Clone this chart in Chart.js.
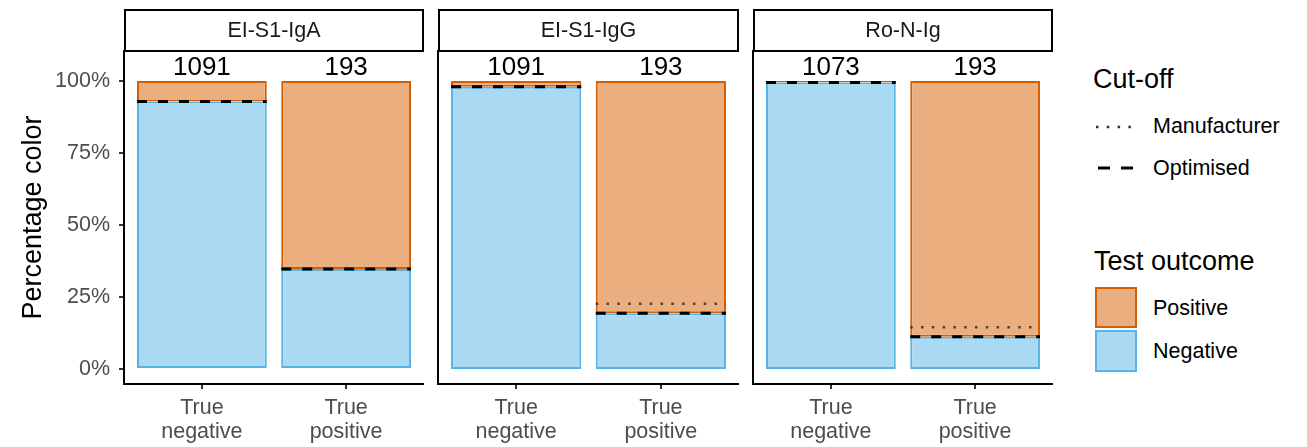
<!DOCTYPE html>
<html>
<head>
<meta charset="utf-8">
<script src="https://cdn.jsdelivr.net/npm/chart.js@4.4.1/dist/chart.umd.min.js"></script>
<style>
  html, body { margin: 0; padding: 0; background: #ffffff; }
  body { width: 1307px; height: 447px; position: relative; overflow: hidden;
         font-family: "Liberation Sans", Arial, Helvetica, sans-serif; }
  canvas { position: absolute; top: 0; }
  .lg { position: absolute; white-space: nowrap; color: #000; transform: translateY(-50%); }
  .lg-title { font-size: 27px; line-height: 27px; }
  .lg-text { font-size: 21.5px; line-height: 21.5px; }
  #keys { position: absolute; left: 0; top: 0; }
</style>
</head>
<body>
<canvas id="panel0" width="424" height="447" style="left:0px"></canvas>
<canvas id="panel1" width="311" height="447" style="left:428px"></canvas>
<canvas id="panel2" width="310" height="447" style="left:743px"></canvas>

<div class="lg lg-title" style="left:1093px; top:79px">Cut-off</div>
<div class="lg lg-text" style="left:1153px; top:127px">Manufacturer</div>
<div class="lg lg-text" style="left:1153px; top:169px">Optimised</div>
<div class="lg lg-title" style="left:1094px; top:261px">Test outcome</div>
<div class="lg lg-text" style="left:1153px; top:309px">Positive</div>
<div class="lg lg-text" style="left:1153px; top:352px">Negative</div>
<svg id="keys" width="1307" height="447">
  <line x1="1096" y1="127" x2="1136" y2="127" stroke="#333333" stroke-width="2.5" stroke-dasharray="2.5 8.3"/>
  <line x1="1098" y1="168" x2="1133" y2="168" stroke="#000000" stroke-width="3" stroke-dasharray="12 11"/>
  <rect x="1096" y="288" width="40" height="39" fill="#eaae7f" stroke="#D55E00" stroke-width="2"/>
  <rect x="1096" y="331" width="40" height="40" fill="#aad9f4" stroke="#56B4E9" stroke-width="2"/>
</svg>

<script>
// Assays shown as facets, left to right
const tests = ['EI-S1-IgA', 'EI-S1-IgG', 'Ro-N-Ig'];
// True infection status (x categories)
const truthLabels = [['True', 'negative'], ['True', 'positive']];
// Number of samples in each bar
const sampleCounts = [[1091, 193], [1091, 193], [1073, 193]];
// Share of samples testing negative / positive (%)
const negativeShare = [[92.9, 34.7], [98.0, 19.4], [99.5, 11.2]];
const positiveShare = [[7.1, 65.3], [2.0, 80.6], [0.5, 88.8]];
// Share testing negative under each cut-off (%)
const optimisedCutoff = [[92.9, 34.7], [98.0, 19.4], [99.5, 11.2]];
const manufacturerCutoff = [[null, null], [null, 22.7], [null, 14.5]];
// Y-axis ticks (%)
const yTicks = [0, 25, 50, 75, 100];

const FONT = '"Liberation Sans", Arial, Helvetica, sans-serif';
const BLUE_FILL = '#aad9f4', BLUE_LINE = '#56B4E9';
const ORANGE_FILL = '#eaae7f', ORANGE_LINE = '#D55E00';
const BAR_FRAC = 0.9;
const COUNT_Y = 104.5;

// Horizontal segments spanning each bar at a cut-off value
function cutoffSegments(values) {
  const pts = [];
  values.forEach((v, i) => {
    if (v === null) return;
    const c = i + 1, h = BAR_FRAC / 2;
    pts.push({ x: c - h, y: v }, { x: c + h, y: v }, { x: c + h + 0.01, y: null });
  });
  return pts;
}

// Facet header box and sample counts above the bars
const facetDecor = {
  id: 'facetDecor',
  afterDraw(chart, args, opts) {
    const ctx = chart.ctx, a = chart.chartArea;
    const xs = chart.scales.x, ys = chart.scales.y;
    ctx.save();
    const top = a.top - 41;
    ctx.fillStyle = '#ffffff';
    ctx.fillRect(a.left + 1, top, a.right - a.left - 2, 41);
    ctx.strokeStyle = '#000000';
    ctx.lineWidth = 2;
    ctx.strokeRect(a.left + 1, top, a.right - a.left - 2, 41);
    ctx.fillStyle = '#1a1a1a';
    ctx.font = '21.5px ' + FONT;
    ctx.textAlign = 'center';
    ctx.textBaseline = 'middle';
    ctx.fillText(opts.title, (a.left + a.right) / 2, top + 21);
    ctx.fillStyle = '#000000';
    ctx.font = '26px ' + FONT;
    opts.counts.forEach((n, i) => {
      ctx.fillText(String(n), xs.getPixelForValue(i + 1), ys.getPixelForValue(COUNT_Y));
    });
    ctx.restore();
  }
};

function makePanel(p) {
  const first = p === 0;
  const ctx = document.getElementById('panel' + p);
  return new Chart(ctx, {
    data: {
      datasets: [
        {
          type: 'bar', label: 'Negative', order: 2, stack: 'outcome',
          data: negativeShare[p].map((v, i) => ({ x: i + 1, y: v })),
          backgroundColor: BLUE_FILL, borderColor: BLUE_LINE, borderWidth: 2,
          borderSkipped: false, barPercentage: BAR_FRAC, categoryPercentage: 1
        },
        {
          type: 'bar', label: 'Positive', order: 2, stack: 'outcome',
          data: positiveShare[p].map((v, i) => ({ x: i + 1, y: v })),
          backgroundColor: ORANGE_FILL, borderColor: ORANGE_LINE, borderWidth: 2,
          borderSkipped: false, barPercentage: BAR_FRAC, categoryPercentage: 1
        },
        {
          type: 'line', label: 'Manufacturer', order: 1, stack: 'manufacturer',
          data: cutoffSegments(manufacturerCutoff[p]),
          borderColor: '#444444', borderWidth: 2.5, borderDash: [2.5, 8.3],
          pointRadius: 0, spanGaps: false, fill: false
        },
        {
          type: 'line', label: 'Optimised', order: 0, stack: 'optimised',
          data: cutoffSegments(optimisedCutoff[p]),
          borderColor: '#000000', borderWidth: 3, borderDash: [10, 11],
          pointRadius: 0, spanGaps: false, fill: false
        }
      ]
    },
    options: {
      responsive: false,
      animation: false,
      events: [],
      layout: { padding: { top: 51, left: 0, right: 0, bottom: 0 } },
      plugins: {
        legend: { display: false },
        tooltip: { enabled: false },
        facetDecor: { title: tests[p], counts: sampleCounts[p] }
      },
      scales: {
        x: {
          type: 'linear', min: 0.46, max: 2.54, offset: false, stacked: true,
          afterBuildTicks(s) { s.ticks = truthLabels.map((_, i) => ({ value: i + 1 })); },
          afterFit(s) { s.height = 63; },
          ticks: {
            autoSkip: false, maxRotation: 0, padding: 7,
            color: '#4d4d4d', font: { family: FONT, size: 21.5, lineHeight: 1.13 },
            callback: (v) => truthLabels[Math.round(v) - 1]
          },
          grid: { display: true, offset: false, drawOnChartArea: false, drawTicks: true, tickLength: 5,
                  color: '#333333', lineWidth: 2 },
          border: { display: true, color: '#000000', width: 2 }
        },
        y: {
          type: 'linear', stacked: true, min: -5.2, max: 110.4,
          afterBuildTicks(s) { s.ticks = yTicks.map(v => ({ value: v })); },
          afterFit(s) { s.width = first ? 124 : 10; },
          ticks: {
            display: first, padding: 9, color: '#4d4d4d',
            font: { family: FONT, size: 21.5 },
            callback: (v) => v + '%'
          },
          grid: { display: first, drawOnChartArea: false, drawTicks: true, tickLength: 5,
                  color: '#333333', lineWidth: 2 },
          border: { display: true, color: '#000000', width: 2 },
          title: {
            display: first, text: 'Percentage color', color: '#000000',
            font: { family: FONT, size: 27 }, padding: { top: 17, bottom: 0 }
          }
        }
      }
    },
    plugins: [facetDecor]
  });
}

tests.forEach((_, p) => makePanel(p));
</script>
</body>
</html>
